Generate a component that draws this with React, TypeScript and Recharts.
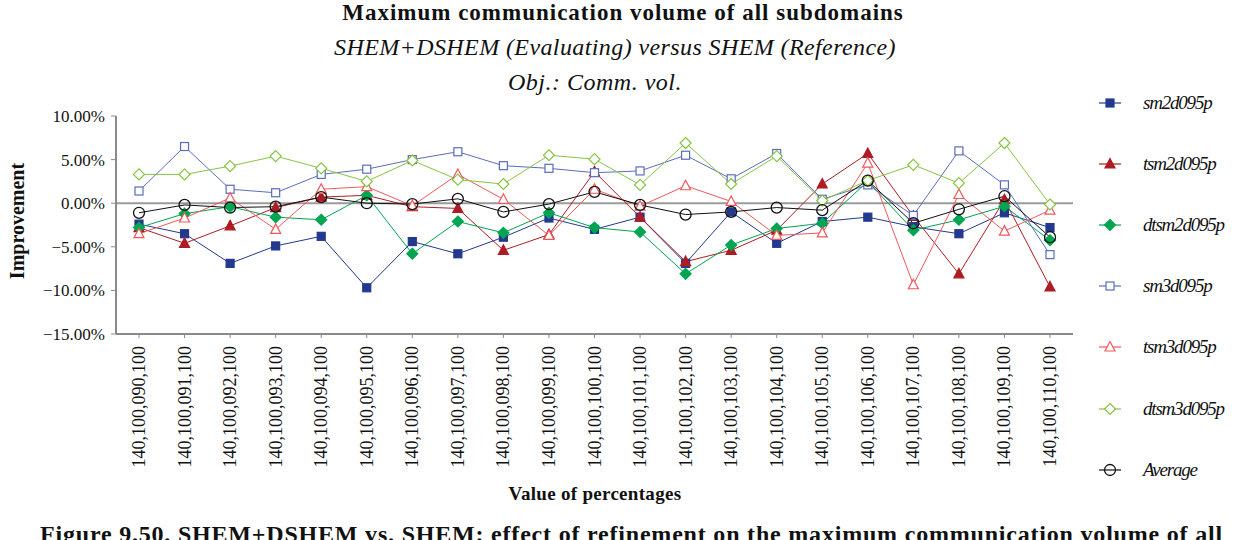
import React from 'react';
import { LineChart, Line, XAxis, YAxis, ReferenceLine } from 'recharts';

const categories = [
  '140,100,090,100', '140,100,091,100', '140,100,092,100', '140,100,093,100',
  '140,100,094,100', '140,100,095,100', '140,100,096,100', '140,100,097,100',
  '140,100,098,100', '140,100,099,100', '140,100,100,100', '140,100,101,100',
  '140,100,102,100', '140,100,103,100', '140,100,104,100', '140,100,105,100',
  '140,100,106,100', '140,100,107,100', '140,100,108,100', '140,100,109,100',
  '140,100,110,100',
];

const sm2d095p = [-2.4, -3.5, -6.9, -4.9, -3.8, -9.7, -4.4, -5.8, -3.9, -1.7, -3.0, -1.6, -6.9, -1.0, -4.6, -2.1, -1.6, -2.7, -3.5, -1.1, -2.8];
const tsm2d095p = [-2.8, -4.6, -2.6, -0.5, 0.7, 0.9, -0.4, -0.6, -5.4, -3.6, 3.6, -1.6, -6.7, -5.4, -3.1, 2.2, 5.7, -1.5, -8.1, 0.4, -9.6];
const dtsm2d095p = [-2.8, -1.2, -0.4, -1.6, -1.9, 0.9, -5.8, -2.1, -3.4, -1.1, -2.8, -3.3, -8.1, -4.8, -2.9, -2.3, 2.5, -3.1, -1.9, -0.35, -4.25];
const sm3d095p = [1.4, 6.5, 1.6, 1.2, 3.3, 3.9, 5.0, 5.9, 4.3, 4.0, 3.5, 3.7, 5.5, 2.8, 5.7, 0.45, 2.1, -1.4, 6.0, 2.1, -5.9];
const tsm3d095p = [-3.5, -1.7, 0.6, -3.0, 1.6, 1.9, -0.3, 3.3, 0.45, -3.7, 1.6, -0.35, 2.0, 0.2, -3.7, -3.4, 4.6, -9.35, 1.0, -3.2, -0.8];
const dtsm3d095p = [3.3, 3.3, 4.25, 5.4, 4.0, 2.5, 4.9, 2.7, 2.2, 5.5, 5.05, 2.1, 6.9, 2.2, 5.4, 0.3, 2.6, 4.4, 2.3, 6.9, -0.15];
const average = [-1.1, -0.2, -0.5, -0.4, 0.7, 0.0, -0.1, 0.5, -1.0, -0.1, 1.3, -0.2, -1.3, -1.0, -0.5, -0.8, 2.6, -2.3, -0.7, 0.8, -3.9];

const yTicks = [-15, -10, -5, 0, 5, 10];

const series = [
  { key: 'sm2d095p', values: sm2d095p, color: '#23398f', shape: 'square', filled: true },
  { key: 'tsm2d095p', values: tsm2d095p, color: '#ad1c24', shape: 'triangle', filled: true },
  { key: 'dtsm2d095p', values: dtsm2d095p, color: '#00a551', shape: 'diamond', filled: true },
  { key: 'sm3d095p', values: sm3d095p, color: '#5a6dbd', shape: 'square', filled: false },
  { key: 'tsm3d095p', values: tsm3d095p, color: '#f0585c', shape: 'triangle', filled: false },
  { key: 'dtsm3d095p', values: dtsm3d095p, color: '#86c540', shape: 'diamond', filled: false },
  { key: 'Average', values: average, color: '#111111', shape: 'circle', filled: false },
];

const data = categories.map((name, i) => {
  const row: any = { name };
  series.forEach((s) => { row[s.key] = s.values[i]; });
  return row;
});

const serif = '"Liberation Serif", "Times New Roman", serif';

function Marker({ cx, cy, shape, color, filled }: any) {
  const fill = filled ? color : '#fff';
  if (shape === 'square') {
    return <rect x={cx - 4} y={cy - 4} width={8} height={8} fill={fill} stroke={color} strokeWidth={1.2} />;
  }
  if (shape === 'triangle') {
    return <path d={`M${cx},${cy - 5.5} L${cx + 5},${cy + 4} L${cx - 5},${cy + 4} Z`} fill={fill} stroke={color} strokeWidth={1.2} />;
  }
  if (shape === 'diamond') {
    return <path d={`M${cx},${cy - 5.5} L${cx + 5.5},${cy} L${cx},${cy + 5.5} L${cx - 5.5},${cy} Z`} fill={fill} stroke={color} strokeWidth={1.2} />;
  }
  return <circle cx={cx} cy={cy} r={5.5} fill="none" stroke={color} strokeWidth={1.3} />;
}

const makeDot = (s: any) => (props: any) => (
  <Marker key={`${s.key}-${props.index}`} cx={props.cx} cy={props.cy} shape={s.shape} color={s.color} filled={s.filled} />
);

const XTick = ({ x, y, payload }: any) => (
  <text
    x={0}
    y={0}
    transform={`translate(${x},${y + 6}) rotate(-90)`}
    textAnchor="end"
    dominantBaseline="central"
    fontFamily={serif}
    fontSize={18}
    fill="#111"
  >
    {payload.value}
  </text>
);

const fmtY = (v: number) => (v < 0 ? '\u2212' + Math.abs(v).toFixed(2) : v.toFixed(2)) + '%';

function ChartLegend() {
  return (
    <div style={{ position: 'absolute', left: 1098, top: 72, fontFamily: serif }}>
      {series.map((s) => (
        <div key={s.key} style={{ display: 'flex', alignItems: 'center', height: 61.2 }}>
          <svg width={24} height={14} style={{ marginRight: 21 }}>
            <line x1={1} y1={7} x2={23} y2={7} stroke={s.color} strokeWidth={1.2} />
            <Marker cx={12} cy={7} shape={s.shape} color={s.color} filled={s.filled} />
          </svg>
          <span style={{ fontStyle: 'italic', fontSize: 19, color: '#111', letterSpacing: -1.2 }}>{s.key}</span>
        </div>
      ))}
    </div>
  );
}

export default function App() {
  return (
    <div style={{ position: 'absolute', left: 0, top: 0, width: 1234, height: 540, background: '#fff', overflow: 'hidden', fontFamily: serif }}>
      <div style={{ position: 'absolute', left: 0, width: 1246, top: 0, textAlign: 'center', fontWeight: 'bold', fontSize: 23, letterSpacing: 1, color: '#111' }}>
        Maximum communication volume of all subdomains
      </div>
      <div style={{ position: 'absolute', left: 0, width: 1230, top: 34, textAlign: 'center', fontStyle: 'italic', fontSize: 24, letterSpacing: 0.4, color: '#111' }}>
        SHEM+DSHEM (Evaluating) versus SHEM (Reference)
      </div>
      <div style={{ position: 'absolute', left: 0, width: 1190, top: 69, textAlign: 'center', fontStyle: 'italic', fontSize: 24, letterSpacing: 0.5, color: '#111' }}>
        Obj.: Comm. vol.
      </div>
      <div style={{ position: 'absolute', left: 17, top: 221, transform: 'translate(-50%, -50%) rotate(-90deg)', fontWeight: 'bold', fontSize: 20, color: '#111', whiteSpace: 'nowrap' }}>
        Improvement
      </div>
      <div style={{ position: 'absolute', left: 0, width: 1190, top: 483, textAlign: 'center', fontWeight: 'bold', fontSize: 19, letterSpacing: 0.3, color: '#111' }}>
        Value of percentages
      </div>
      <div style={{ position: 'absolute', left: 40, top: 521, fontWeight: 'bold', fontSize: 24, letterSpacing: 0.8, color: '#111', whiteSpace: 'nowrap' }}>
        Figure 9.50. SHEM+DSHEM vs. SHEM: effect of refinement on the maximum communication volume of all
      </div>
      <div style={{ position: 'absolute', left: 0, top: 0 }}>
        <LineChart width={1234} height={540} data={data} margin={{ top: 116, right: 161, left: 16, bottom: 66 }}>
          <XAxis
            dataKey="name"
            interval={0}
            height={140}
            padding={{ left: 23, right: 23 }}
            tick={<XTick />}
            tickSize={4}
            axisLine={{ stroke: '#8a8a8a', strokeWidth: 2 }}
            tickLine={{ stroke: '#8a8a8a' }}
          />
          <YAxis
            width={100}
            domain={[-15, 10]}
            ticks={yTicks}
            tickFormatter={fmtY}
            tickSize={5}
            tickMargin={6}
            axisLine={{ stroke: '#8a8a8a', strokeWidth: 2 }}
            tickLine={{ stroke: '#8a8a8a' }}
            tick={{ fontFamily: serif, fontSize: 17, fill: '#111' }}
          />
          <ReferenceLine y={0} stroke="#9a9a9a" strokeWidth={2} />
          {series.map((s) => (
            <Line
              key={s.key}
              dataKey={s.key}
              stroke={s.color}
              strokeWidth={1}
              dot={makeDot(s)}
              activeDot={false}
              isAnimationActive={false}
            />
          ))}
        </LineChart>
      </div>
      <ChartLegend />
    </div>
  );
}
